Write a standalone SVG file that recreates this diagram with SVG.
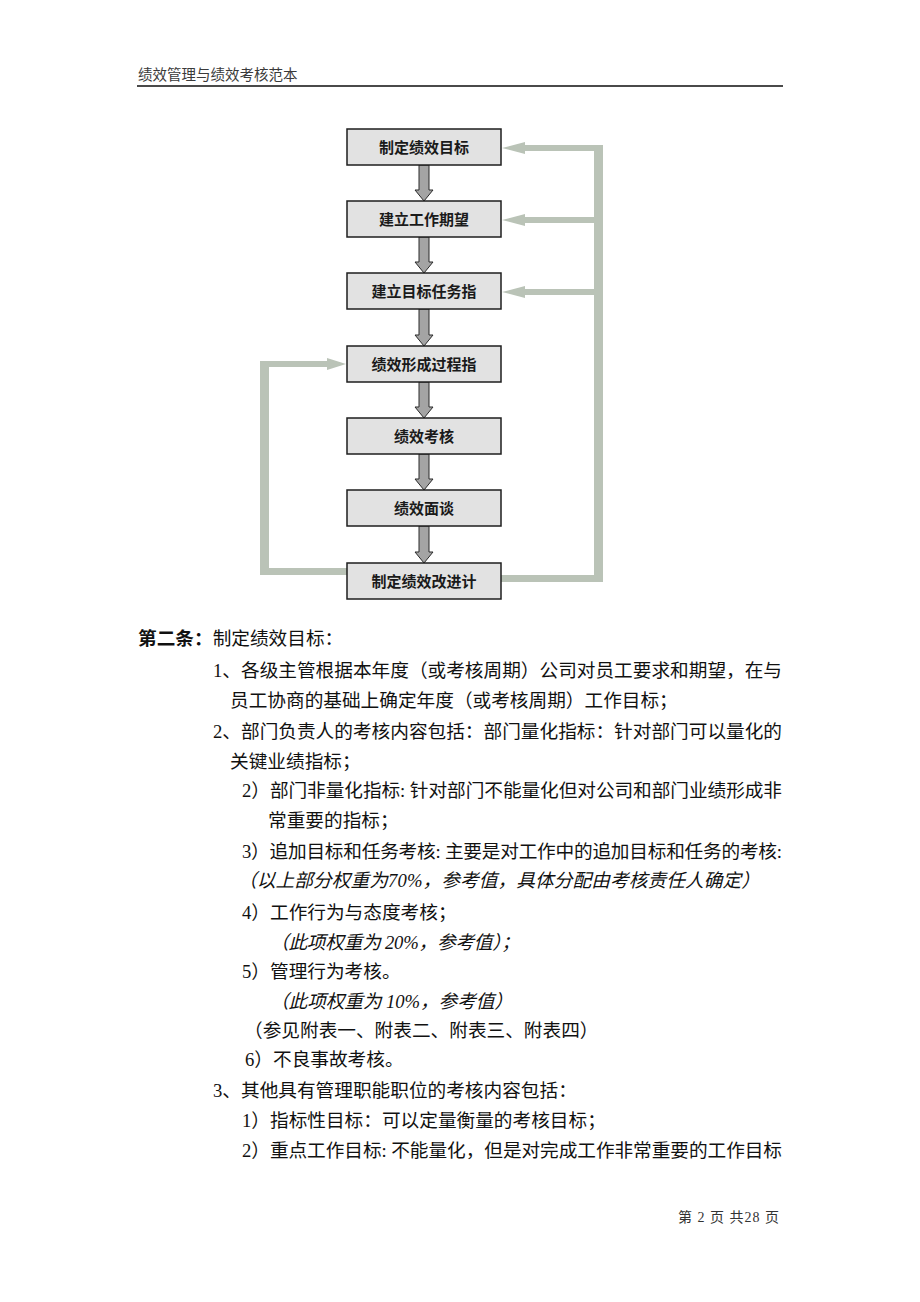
<svg xmlns="http://www.w3.org/2000/svg" width="920" height="1302" viewBox="0 0 920 1302">
<style>
.bg{fill:#ffffff}
.box{fill:#e2e2e2;stroke:#1e1e1e;stroke-width:1.5}
.lbl{font-family:"Noto Sans CJK SC","Liberation Sans",sans-serif;font-size:15px;font-weight:bold;fill:#1a1a1a;text-anchor:middle}
.down{fill:#a4a4a4;stroke:#2a2a2a;stroke-width:1}
.fb{fill:#bac3b7}
.t{font-family:"Liberation Serif","Noto Sans CJK SC",serif;font-size:18.67px;fill:#111}
.it{font-style:italic}
.hd{font-family:"Noto Sans CJK SC","Liberation Sans",sans-serif;font-size:14.5px;fill:#3a3a3a}
.ft{font-family:"Liberation Serif","Noto Sans CJK SC",serif;font-size:14px;fill:#333}
</style>
<rect class="bg" x="0" y="0" width="920" height="1302"/>
<g id="header">
<text class="hd" x="138" y="80">绩效管理与绩效考核范本</text>
<rect x="137" y="85" width="646" height="2" fill="#4a4a4a"/>
</g>
<g id="connectors">
<polygon class="down" points="419,165 429,165 429,190 433,190 424,201 415,190 419,190"/>
<polygon class="down" points="419,237 429,237 429,262 433,262 424,273 415,262 419,262"/>
<polygon class="down" points="419,309 429,309 429,335 433,335 424,346 415,335 419,335"/>
<polygon class="down" points="419,382 429,382 429,407 433,407 424,418 415,407 419,407"/>
<polygon class="down" points="419,454 429,454 429,479 433,479 424,490 415,479 419,479"/>
<polygon class="down" points="419,526 429,526 429,552 433,552 424,563 415,552 419,552"/>
<g id="feedback-right">
<rect class="fb" x="594" y="145" width="9" height="437"/>
<rect class="fb" x="501" y="575" width="102" height="7"/>
<rect class="fb" x="524" y="145" width="79" height="6"/>
<polygon class="fb" points="502,148 525,142 525,154"/>
<rect class="fb" x="524" y="217" width="79" height="6"/>
<polygon class="fb" points="502,220 525,214 525,226"/>
<rect class="fb" x="524" y="289" width="79" height="6"/>
<polygon class="fb" points="502,292 525,286 525,298"/>
</g>
<g id="feedback-left">
<rect class="fb" x="260" y="361" width="9" height="214"/>
<rect class="fb" x="260" y="568" width="87" height="7"/>
<rect class="fb" x="260" y="361" width="68" height="6"/>
<polygon class="fb" points="346,364 327,358 327,370"/>
</g>
</g>
<g id="n1"><rect class="box" x="347" y="129" width="154" height="36"/><text class="lbl" x="424" y="152.5">制定绩效目标</text></g>
<g id="n2"><rect class="box" x="347" y="201" width="154" height="36"/><text class="lbl" x="424" y="224.5">建立工作期望</text></g>
<g id="n3"><rect class="box" x="347" y="273" width="154" height="36"/><text class="lbl" x="424" y="296.5">建立目标任务指</text></g>
<g id="n4"><rect class="box" x="347" y="346" width="154" height="36"/><text class="lbl" x="424" y="369.5">绩效形成过程指</text></g>
<g id="n5"><rect class="box" x="347" y="418" width="154" height="36"/><text class="lbl" x="424" y="441.5">绩效考核</text></g>
<g id="n6"><rect class="box" x="347" y="490" width="154" height="36"/><text class="lbl" x="424" y="513.5">绩效面谈</text></g>
<g id="n7"><rect class="box" x="347" y="563" width="154" height="36"/><text class="lbl" x="424" y="586.5">制定绩效改进计</text></g>
<g id="body">
<text class="t" x="138" y="645"><tspan font-weight="bold">第二条：</tspan>制定绩效目标：</text>
<text class="t" x="213" y="677" textLength="569" lengthAdjust="spacing">1、各级主管根据本年度（或考核周期）公司对员工要求和期望，在与</text>
<text class="t" x="230" y="707">员工协商的基础上确定年度（或考核周期）工作目标；</text>
<text class="t" x="213" y="738" textLength="569" lengthAdjust="spacing">2、部门负责人的考核内容包括：部门量化指标：针对部门可以量化的</text>
<text class="t" x="230" y="768">关键业绩指标；</text>
<text class="t" x="242" y="797" textLength="540" lengthAdjust="spacing">2）部门非量化指标: 针对部门不能量化但对公司和部门业绩形成非</text>
<text class="t" x="268" y="827">常重要的指标；</text>
<text class="t" x="242" y="858" textLength="540" lengthAdjust="spacing">3）追加目标和任务考核: 主要是对工作中的追加目标和任务的考核:</text>
<text class="t it" x="238" y="887" textLength="522" lengthAdjust="spacing">（以上部分权重为70%，参考值，具体分配由考核责任人确定）</text>
<text class="t" x="242" y="919">4）工作行为与态度考核；</text>
<text class="t it" x="270" y="949" textLength="250" lengthAdjust="spacing">（此项权重为 20%，参考值）；</text>
<text class="t" x="242" y="978">5）管理行为考核。</text>
<text class="t it" x="270" y="1008" textLength="243" lengthAdjust="spacing">（此项权重为 10%，参考值）</text>
<text class="t" x="244" y="1037">（参见附表一、附表二、附表三、附表四）</text>
<text class="t" x="245" y="1066">6）不良事故考核。</text>
<text class="t" x="213" y="1097">3、其他具有管理职能职位的考核内容包括：</text>
<text class="t" x="242" y="1127">1）指标性目标：可以定量衡量的考核目标；</text>
<text class="t" x="242" y="1157" textLength="540" lengthAdjust="spacing">2）重点工作目标: 不能量化，但是对完成工作非常重要的工作目标</text>
</g>
<g id="footer">
<text class="ft" x="678" y="1222" textLength="101" lengthAdjust="spacing">第 2 页 共28 页</text>
</g>
</svg>
